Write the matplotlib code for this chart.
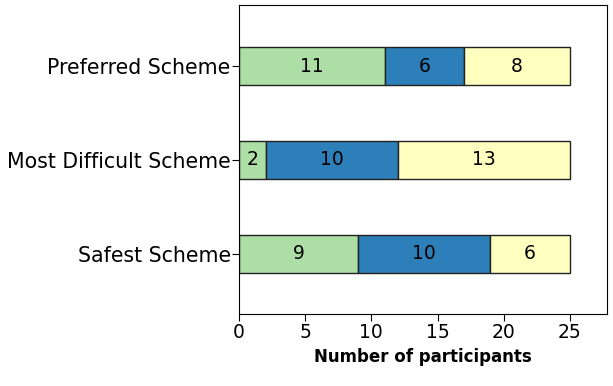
import numpy as np
import matplotlib
matplotlib.use("Agg")
import matplotlib.pyplot as plt

categories = ["Safest Scheme", "Most Difficult Scheme", "Preferred Scheme"]
green_vals = [9, 2, 11]
blue_vals = [10, 10, 6]
yellow_vals = [6, 13, 8]
xticks = [0, 5, 10, 15, 20, 25]

colors = ["#addea6", "#2c7fb8", "#ffffc0"]

fig = plt.figure(figsize=(6.13, 3.86), dpi=100)
ax = fig.add_axes([0.39, 0.1865, 0.6, 0.8005])

y = np.arange(len(categories))
left = np.zeros(len(categories))
for vals, c in zip([green_vals, blue_vals, yellow_vals], colors):
    vals = np.array(vals)
    ax.barh(y, vals, left=left, height=0.41, color=c,
            edgecolor="#222222", linewidth=1)
    for yi, l, v in zip(y, left, vals):
        ax.text(l + v / 2, yi, str(v), ha="center", va="center", fontsize=13.5)
    left = left + vals

ax.set_xlim(0, 27.8)
ax.set_ylim(-0.64, 2.65)
ax.set_yticks(y)
ax.set_yticklabels(categories, fontsize=14.8)
ax.set_xticks(xticks)
ax.tick_params(axis="x", labelsize=13.5, length=5, pad=1.5)
ax.tick_params(axis="y", length=5, pad=1)
ax.set_xlabel("Number of participants", fontsize=12, fontweight="bold", labelpad=4)

fig.savefig("out.png", dpi=100)
